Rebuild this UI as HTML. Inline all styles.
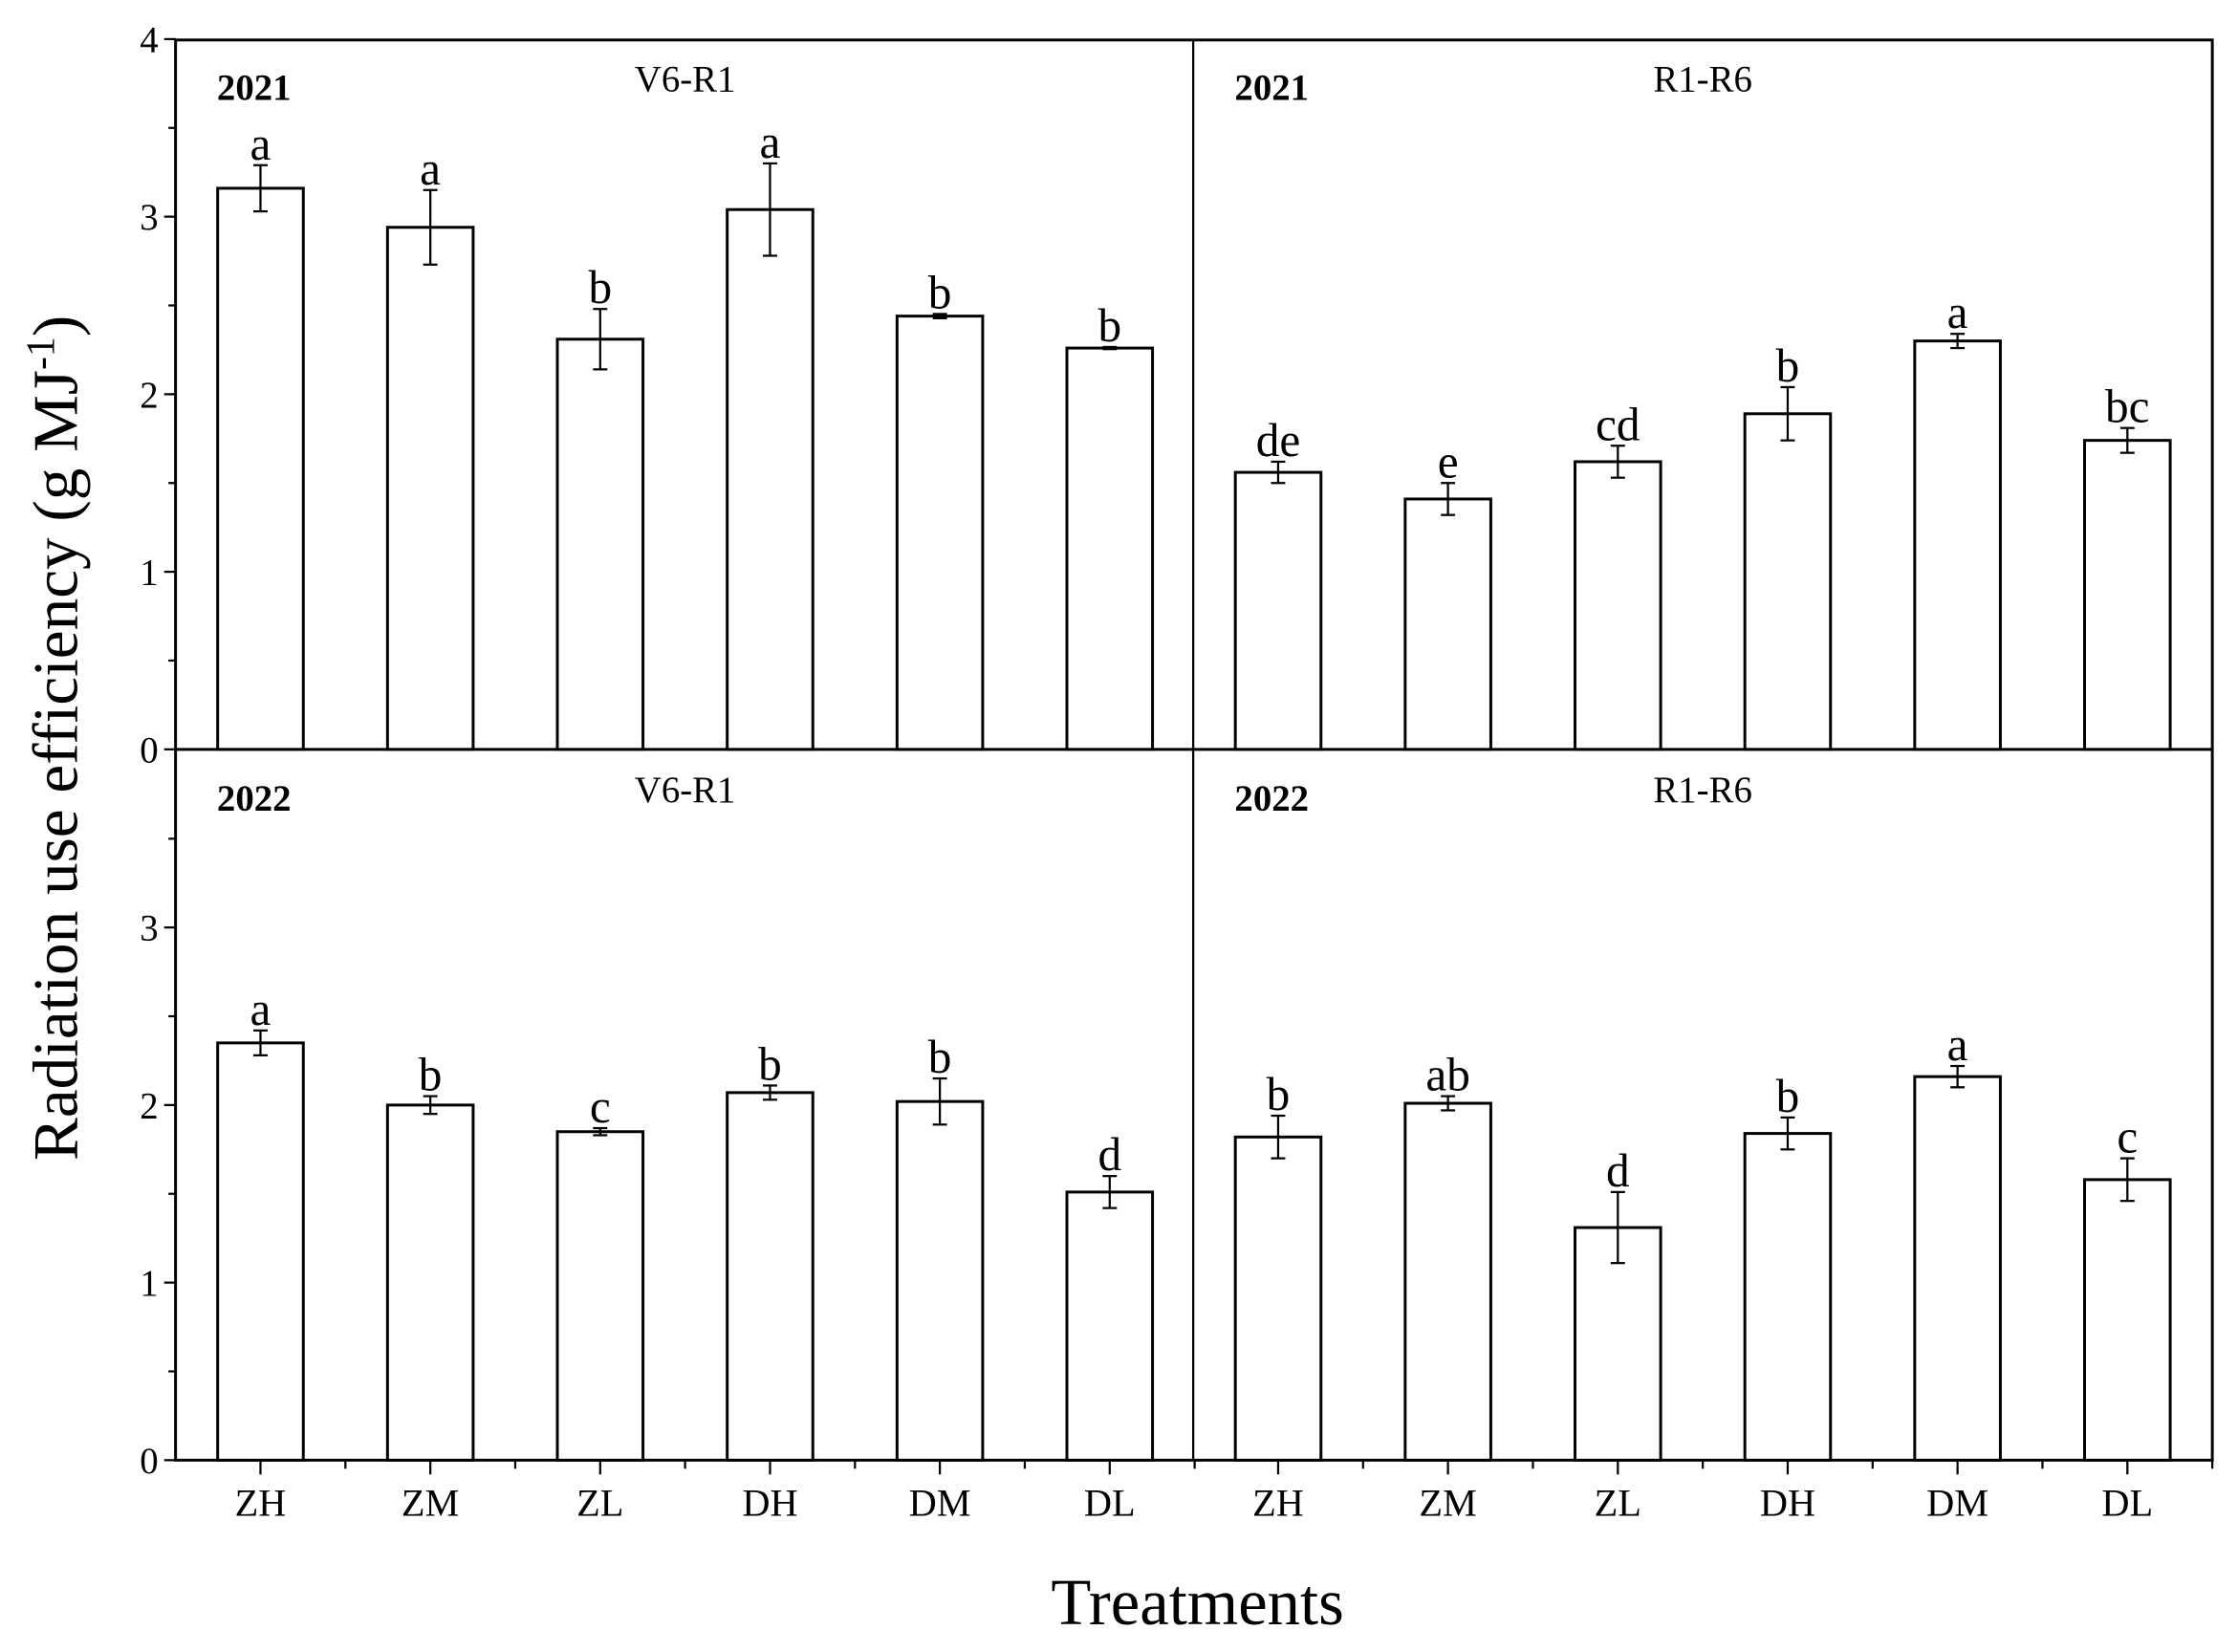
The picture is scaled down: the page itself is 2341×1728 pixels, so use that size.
<!DOCTYPE html>
<html><head><meta charset="utf-8"><style>
html,body{margin:0;padding:0;background:#fff;}
svg{display:block;}
text{font-family:"Liberation Serif",serif;fill:#000;}
</style></head><body>
<svg width="2341" height="1728" viewBox="0 0 1568 1157.4" preserveAspectRatio="none" xmlns="http://www.w3.org/2000/svg">
<g id="g"></g>
<text x="0" y="0" font-size="45" transform="translate(54,517) rotate(-90)" text-anchor="middle">Radiation use efficiency (g MJ<tspan dy="-16" font-size="28">-1</tspan><tspan dy="16">)</tspan></text>
<text x="839" y="1138" font-size="46" text-anchor="middle">Treatments</text>
</svg>
<script>
const g=document.getElementById('g');
let s='';
const L=123,M=836,R=1550,T=28,Y0a=525,Y0b=1023,u=124.4;
s+=`<rect x="${L}" y="${T}" width="${R-L}" height="${Y0b-T}" fill="none" stroke="#000" stroke-width="2"/>`;
s+=`<line x1="${M}" y1="${T}" x2="${M}" y2="${Y0b}" stroke="#000" stroke-width="1.5"/>`;
s+=`<line x1="${L}" y1="${Y0a}" x2="${R}" y2="${Y0a}" stroke="#000" stroke-width="2"/>`;
for(let p=0;p<2;p++){const y0=p?Y0b:Y0a;
 for(let v=0;v<=4;v+=0.5){ if(p==1&&v==4)continue;
  const y=y0-v*u;const maj=v%1==0;
  s+=`<line x1="${L-(maj?8:5)}" y1="${y}" x2="${L}" y2="${y}" stroke="#000" stroke-width="1.5"/>`;
  if(maj) s+=`<text x="${L-12}" y="${y+9}" font-size="26" text-anchor="end">${v}</text>`;
 }}
const names=['ZH','ZM','ZL','DH','DM','DL'];
const sp=119.0;
for(let p=0;p<2;p++){const x0=p?M:L;
 for(let i=0;i<6;i++){const cx=x0+59.5+i*sp;
  s+=`<line x1="${cx}" y1="${Y0b}" x2="${cx}" y2="${Y0b+10}" stroke="#000" stroke-width="1.5"/>`;
  s+=`<line x1="${cx+sp/2}" y1="${Y0b}" x2="${cx+sp/2}" y2="${Y0b+6}" stroke="#000" stroke-width="1.5"/>`;
  s+=`<text x="${cx}" y="${Y0b+39}" font-size="27" text-anchor="middle">${names[i]}</text>`;
 }}
const data=[
 [L,Y0a,[[3.16,.13,'a'],[2.94,.21,'a'],[2.31,.17,'b'],[3.04,.26,'a'],[2.44,.012,'b'],[2.26,.006,'b']],'2021','V6-R1'],
 [M,Y0a,[[1.56,.06,'de'],[1.41,.09,'e'],[1.62,.09,'cd'],[1.89,.15,'b'],[2.30,.04,'a'],[1.74,.07,'bc']],'2021','R1-R6'],
 [L,Y0b,[[2.35,.07,'a'],[2.00,.05,'b'],[1.85,.02,'c'],[2.07,.04,'b'],[2.02,.13,'b'],[1.51,.09,'d']],'2022','V6-R1'],
 [M,Y0b,[[1.82,.12,'b'],[2.01,.04,'ab'],[1.31,.20,'d'],[1.84,.09,'b'],[2.16,.06,'a'],[1.58,.12,'c']],'2022','R1-R6']];
for(const [x0,y0,bars,yr,st] of data){
 s+=`<text x="${x0+29}" y="${y0-(Y0a-T)+42}" font-size="26" font-weight="bold">${yr}</text>`;
 s+=`<text x="${x0+357}" y="${y0-(Y0a-T)+36}" font-size="26" text-anchor="middle">${st}</text>`;
 bars.forEach(([v,e,l],i)=>{const cx=x0+59.5+i*sp;const y=y0-v*u;
  s+=`<rect x="${cx-30}" y="${y}" width="60" height="${v*u}" fill="#fff" stroke="#000" stroke-width="2"/>`;
  const yt=y0-(v+e)*u,yb=y0-(v-e)*u;
  s+=`<line x1="${cx}" y1="${yt}" x2="${cx}" y2="${yb}" stroke="#000" stroke-width="1.5"/>`;
  s+=`<line x1="${cx-5}" y1="${yt}" x2="${cx+5}" y2="${yt}" stroke="#000" stroke-width="1.5"/>`;
  s+=`<line x1="${cx-5}" y1="${yb}" x2="${cx+5}" y2="${yb}" stroke="#000" stroke-width="1.5"/>`;
  s+=`<text x="${cx}" y="${yt-4}" font-size="33" text-anchor="middle">${l}</text>`;
 });
}
g.innerHTML=s;
</script>
</body></html>
